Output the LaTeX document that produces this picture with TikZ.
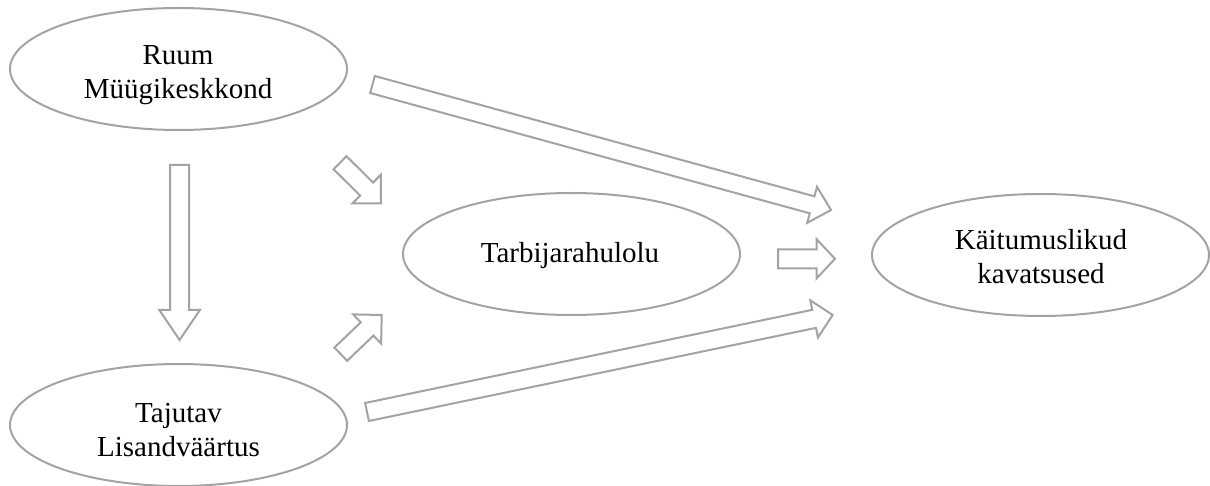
\documentclass[tikz,border=0pt]{standalone}
\usepackage{fontspec}
\setmainfont{Liberation Serif}
\usetikzlibrary{shapes.geometric,calc}

\definecolor{outline}{HTML}{A3A3A3}

\tikzset{
  oval/.style={ellipse, draw=outline, line width=2pt, minimum width=337pt,
    minimum height=122pt, inner sep=0pt},
  lbl/.style={align=center, inner sep=0pt, font=\fontsize{29}{34}\selectfont},
  blk/.style={draw=outline, line width=2pt, line join=miter, fill=white}
}

% hollow block arrow: tail, tip, shaft half width, head half width, head length
\newcommand\blockarrow[5]{%
  \coordinate (hb) at ($(#2)!#5!(#1)$);
  \draw[blk] ($(#1)!#3!90:(#2)$) -- ($(hb)!#3!-90:(#1)$) -- ($(hb)!#4!-90:(#1)$)
    -- (#2) -- ($(hb)!#4!90:(#1)$) -- ($(hb)!#3!90:(#1)$)
    -- ($(#1)!#3!-90:(#2)$) -- cycle;
}

\begin{document}
\begin{tikzpicture}[x=1pt,y=-1pt]
\useasboundingbox (0,0) rectangle (1210,486);

% the four constructs
\node[oval] (ruum) at (178.5,69) {};
\node[oval] (taju) at (178.5,425) {};
\node[oval] (rahul) at (571.5,254) {};
\node[oval] (kavat) at (1040.5,255) {};

\node[lbl] (ruumT) at (178,75.6) {Ruum\\Müügikeskkond};
\node[lbl] (tajuT) at (178.5,430.4) {Tajutav\\Lisandväärtus};
\node[lbl, anchor=base] (rahulT) at (570,263) {Tarbijarahulolu};
\node[lbl] (kavatT) at (1041,256.6) {Käitumuslikud\\kavatsused};

% arrow end points
\coordinate (a1t) at (372.5,84.5);  \coordinate (a1h) at (831,210);
\coordinate (a2t) at (340,162.7);   \coordinate (a2h) at (381,203.3);
\coordinate (a3t) at (778,258.8);   \coordinate (a3h) at (835,258.8);
\coordinate (a4t) at (340.8,354.2); \coordinate (a4h) at (381.7,315);
\coordinate (a5t) at (367,412);     \coordinate (a5h) at (832.7,315);
\coordinate (a6t) at (179.6,165);   \coordinate (a6h) at (179.6,340);

\blockarrow{a1t}{a1h}{8.8pt}{18.7pt}{19.6pt}
\blockarrow{a2t}{a2h}{9.2pt}{20.2pt}{20.2pt}
\blockarrow{a3t}{a3h}{9.5pt}{19.5pt}{18.3pt}
\blockarrow{a4t}{a4h}{9.2pt}{20.2pt}{20.2pt}
\blockarrow{a5t}{a5h}{9.2pt}{19pt}{19pt}
\blockarrow{a6t}{a6h}{9.6pt}{20.3pt}{30pt}
\end{tikzpicture}
\end{document}
